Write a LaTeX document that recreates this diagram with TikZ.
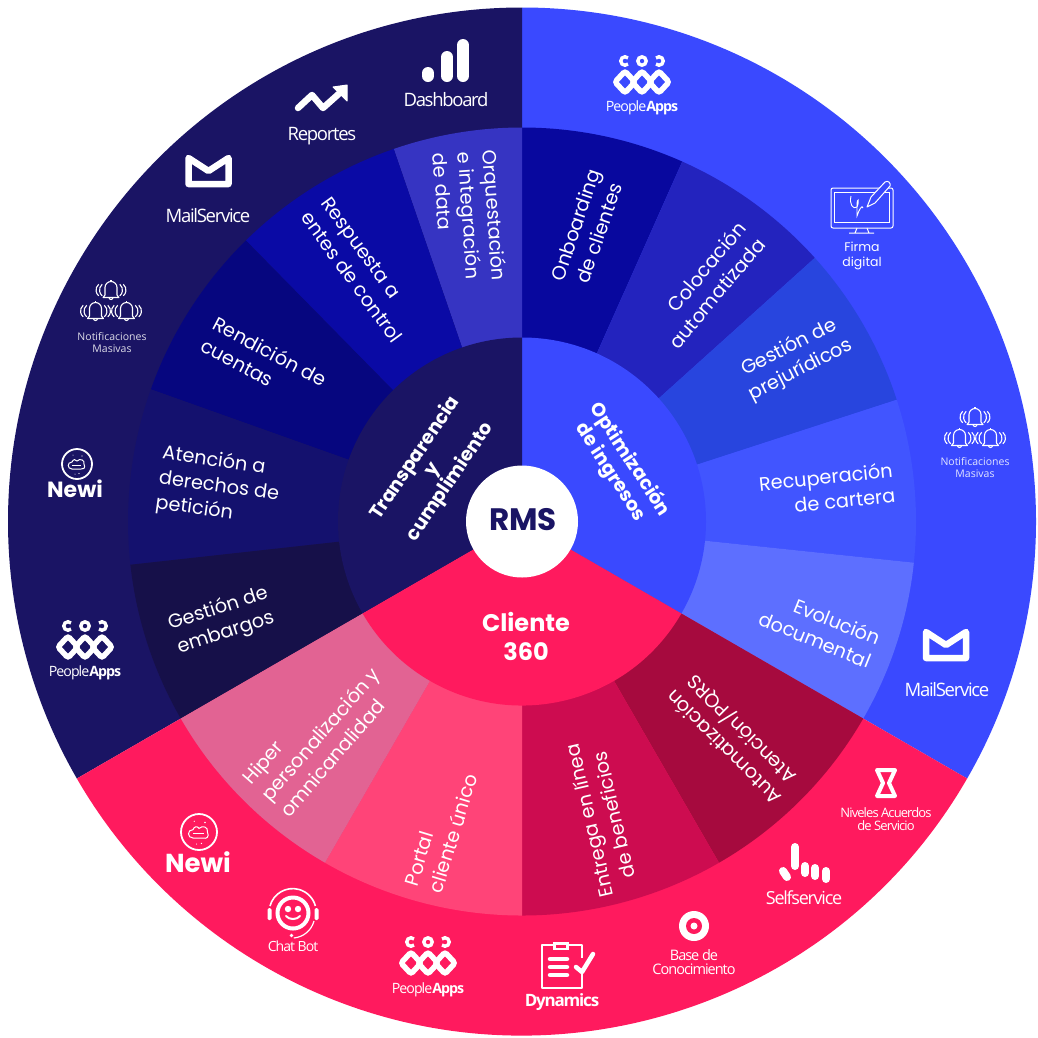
\documentclass[tikz,border=0pt]{standalone}
\usepackage{fontspec}
\setmainfont{Poppins}
\newfontfamily\osans[LetterSpace=-7]{Open Sans}
\newfontfamily\osansn{Open Sans}
\definecolor{cDark}{HTML}{1A1464}
\definecolor{cBlue}{HTML}{3A49FF}
\definecolor{cPink}{HTML}{FF1A5E}
\definecolor{sOnb}{HTML}{08089E}
\definecolor{sCol}{HTML}{2323BE}
\definecolor{sGes}{HTML}{2845DE}
\definecolor{sRec}{HTML}{4155FF}
\definecolor{sEvo}{HTML}{5D6FFF}
\definecolor{sOrq}{HTML}{3634C2}
\definecolor{sRes}{HTML}{0A0AA5}
\definecolor{sRen}{HTML}{06067F}
\definecolor{sAte}{HTML}{14116E}
\definecolor{sEmb}{HTML}{161049}
\definecolor{sHip}{HTML}{E26393}
\definecolor{sPor}{HTML}{FF4478}
\definecolor{sEnt}{HTML}{CD0C50}
\definecolor{sAut}{HTML}{A60A3E}
\newcommand{\sect}[5]{\fill[#1] (0,0) -- (#2:#4) arc[start angle=#2,end angle=#3,radius=#4] -- cycle;}
\tikzset{
 ring/.style={text=white,align=center,font=\fontsize{19.3}{25}\selectfont},
 hub/.style={text=white,align=center,font=\fontsize{19}{21}\selectfont\bfseries},
 lab/.style={text=white,align=center,inner sep=0pt,font=\osans\fontsize{#1}{#1}\selectfont},
 lab/.default=18,
 ic/.style={draw=white,line join=round,line cap=round},
 peopleicon/.pic={
  \draw[white,line width=3.4] (-17+3,24) arc[start angle=45,end angle=315,radius=4.24];
  \draw[white,line width=3.4] (0,21) circle[radius=4.2];
  \draw[white,line width=3.4] (17-3,24) arc[start angle=135,end angle=-135,radius=4.24];
  \foreach \q in {-17,0,17}{
   \draw[white,line width=5.5,rounded corners=2.5] (\q-10,0) -- (\q,10.8) -- (\q+10,0) -- (\q,-10.8) -- cycle;}
 },
 bellone/.pic={
  \draw[white,line width=1.1,line join=round] (-8,-7.5) -- (-6,-5) -- (-6,2.5) arc[start angle=180,end angle=0,radius=6] -- (6,-5) -- (8,-7.5) -- cycle;
  \draw[white,line width=1.1] (-2,-7.5) arc[start angle=180,end angle=360,radius=2];
  \draw[white,line width=1.1] (0,8.5) -- (0,10);
  \draw[white,line width=1.1] (-8.8,5.7) arc[start angle=130,end angle=230,radius=7.5];
  \draw[white,line width=1.1] (8.8,5.7) arc[start angle=50,end angle=-50,radius=7.5];
  \draw[white,line width=1.1] (-12.3,5.7) arc[start angle=130,end angle=230,radius=7.5];
  \draw[white,line width=1.1] (12.3,5.7) arc[start angle=50,end angle=-50,radius=7.5];
 },
 bells/.pic={
  \pic at (0,0) {bellone};
  \pic at (-15.5,-21) {bellone};
  \pic at (15.5,-21) {bellone};
 },
 envelope/.pic={
  \draw[white,line width=6.5,line join=round] (-20,13) -- (-20,-13) -- (20,-13) -- (20,13) -- (0,0) -- cycle;
 },
 newi/.pic={
  \draw[white,line width=1.8] (0,0) circle[radius=15];
  \draw[white,line width=1] (-5,-5) .. controls (-10,-5) and (-10,2) .. (-5,2) .. controls (-4,5) and (-1,5) .. (0,3) .. controls (3,6) and (8,4) .. (7,0) .. controls (9,-4) and (6,-6) .. (4,-5) -- cycle;
  \draw[white,line width=.8] (-5,-1.5) -- (4,-1.5);
  \fill[white] (5,8) circle[radius=.7] (-4,9) circle[radius=.5] (2,-9.5) circle[radius=.6] (-2,-10) circle[radius=.5];
 }
}
\begin{document}
\begin{tikzpicture}[x=1pt,y=1pt]
\useasboundingbox (0,0) rectangle (1038,-1037);
\fill[white] (0,0) rectangle (1038,-1037);
\begin{scope}[shift={(522,-521.5)}]
 % outer ring
 \sect{cBlue}{90}{-30}{514}{}
 \sect{cDark}{90}{210}{514}{}
 \sect{cPink}{-30}{-150}{514}{}
 % middle ring
 \sect{sOnb}{90}{66}{394}{}
 \sect{sCol}{66}{42}{394}{}
 \sect{sGes}{42}{18}{394}{}
 \sect{sRec}{18}{-6}{394}{}
 \sect{sEvo}{-6}{-30}{394}{}
 \sect{sOrq}{90}{109}{394}{}
 \sect{sRes}{109}{134.5}{394}{}
 \sect{sRen}{134.5}{160.4}{394}{}
 \sect{sAte}{160.4}{186.3}{394}{}
 \sect{sEmb}{186.3}{210}{394}{}
 \sect{sAut}{-30}{-60}{394}{}
 \sect{sEnt}{-60}{-90}{394}{}
 \sect{sPor}{-90}{-120}{394}{}
 \sect{sHip}{-120}{-150}{394}{}
 % hub
 \sect{cBlue}{90}{-30}{184}{}
 \sect{cDark}{90}{210}{184}{}
 \sect{cPink}{-30}{-150}{184}{}
 \fill[white] (0,0) circle[radius=56];
\end{scope}
% centre
\node[text=cDark,font=\fontsize{31}{31}\selectfont\bfseries] (rms) at (523,-520) {RMS};
\node[hub,rotate=56] (h1) at (433,-470) {Transparencia\\y\\cumplimiento};
\node[hub,rotate=-57,font=\fontsize{19}{23}\selectfont\bfseries] (h2) at (620,-466) {Optimización\\de ingresos};
\node[hub,font=\fontsize{24}{29}\selectfont\bfseries] (h3) at (526,-636) {Cliente\\360};
% ring texts
\node[ring,rotate=71] (r1) at (587,-229) {Onboarding\\de clientes};
\node[ring,rotate=50,align=right] (r2) at (707,-285) {Colocación\\automatizada};
\node[ring,rotate=27] (r3) at (795,-359) {Gestión de\\prejurídicos};
\node[ring,rotate=6,align=right] (r4) at (827,-489) {Recuperación\\de cartera};
\node[ring,rotate=-22,align=right] (r5) at (820,-628) {Evolución\\documental};
\node[ring,rotate=135] (r6) at (733,-738) {Automatización\\Atención/PQRS};
\node[ring,rotate=103] (r7) at (601,-818) {Entrega en línea\\de beneficios};
\node[ring,rotate=73,align=left] (r8) at (441,-830) {Portal\\cliente único};
\node[ring,rotate=49,align=left] (r9) at (320,-734) {Hiper\\personalización y\\omnicanalidad};
\node[ring,rotate=18] (r10) at (222,-621) {Gestión de\\embargos};
\node[ring,rotate=-8,align=left] (r11) at (219,-487) {Atención a\\derechos de\\petición};
\node[ring,rotate=-28,align=left] (r12) at (264,-362) {Rendición de\\cuentas};
\node[ring,rotate=-54,align=left] (r13) at (362,-270) {Respuesta a\\entes de control};
\node[ring,rotate=-86,align=left] (r14) at (470,-217) {Orquestación\\e integración\\de data};
% Dashboard
\draw[ic,line width=12] (428,-76) -- (428,-73);
\draw[ic,line width=12] (447,-76) -- (447,-57);
\draw[ic,line width=12] (463,-76) -- (463,-45);
\node[lab=18.5] (l1) at (446,-100) {Dashboard};
% Reportes
\draw[ic,line width=6.5] (298,-108) -- (312,-95) -- (323,-108) -- (342,-91);
\fill[white,draw=white,line join=round,line width=1] (333,-87) -- (347,-85) -- (347,-101) -- cycle;
\node[lab=18.5] (l2) at (322,-136) {Reportes};
% Mail
\pic at (208.5,-171) {envelope};
\node[lab=18.5] (l3) at (208,-216) {MailService};
\pic at (946,-645) {envelope};
\node[lab=18.5] (l4) at (947,-690) {MailService};
% Notificaciones
\pic at (111,-290) {bells};
\node[lab=10.5,text=white!85!cDark,font=\osansn\fontsize{10.5}{12}\selectfont] (l5) at (112,-342.5) {Notificaciones\\Masivas};
\pic at (975,-417) {bells};
\node[lab=10.5,text=white!85!cBlue,font=\osansn\fontsize{10.5}{12}\selectfont] (l6) at (975,-468) {Notificaciones\\Masivas};
% Newi
\pic at (77,-464) {newi};
\node[text=white,inner sep=0pt,font=\fontsize{22}{22}\selectfont\bfseries] (l7) at (75,-489) {Newi};
\pic[scale=1.2] at (199,-832) {newi};
\node[text=white,inner sep=0pt,font=\fontsize{26}{26}\selectfont\bfseries] (l8) at (198,-862) {Newi};
% PeopleApps
\pic at (642,-82) {peopleicon};
\node[lab=14.2] (l9) at (642,-108) {People{\bfseries Apps}};
\pic at (85,-647) {peopleicon};
\node[lab=14.2] (l10) at (85,-673) {People{\bfseries Apps}};
\pic at (428,-963) {peopleicon};
\node[lab=14.2] (l11) at (428,-990) {People{\bfseries Apps}};
% Firma
\draw[white,line width=1,rounded corners=2] (831,-188) rectangle (893,-228);
\draw[white,line width=1] (834,-192) rectangle (889,-222);
\draw[white,line width=1] (849,-233) -- (874,-233) (857,-228) -- (855,-233) (867,-228) -- (869,-233);
\draw[cBlue,line width=3] (867,-206) -- (888,-183);
\draw[white,line width=1,line join=round,fill=cBlue] (867,-207) -- (871,-197) -- (885,-182) .. controls (888,-180) and (891,-183) .. (890,-186) -- (875,-203) -- cycle;
\draw[white,line width=.9] (851,-196) .. controls (849,-204) and (853,-210) .. (857,-207) .. controls (860,-200) and (857,-196) .. (857,-206) -- (857,-216) .. controls (859,-210) and (862,-204) .. (863,-208);
\node[text=white,align=center,inner sep=0pt,font=\fontsize{12.5}{15}\selectfont] (l12) at (862,-256) {Firma\\digital};
% Chat bot
\draw[white,line width=4] (293,-913) circle[radius=15.5];
\draw[white,line width=1.6] (270,-906) arc[start angle=165,end angle=15,radius=23.5];
\fill[white,rounded corners=1.5] (267.5,-908) rectangle (271.5,-920);
\fill[white,rounded corners=1.5] (314.5,-908) rectangle (318.5,-920);
\draw[white,line width=1.2] (314,-921) arc[start angle=-15,end angle=-85,radius=23];
\fill[white] (291.5,-935.5) circle[radius=1.8];
\fill[white] (288,-909) circle[radius=3.2] (298,-909) circle[radius=3.2];
\draw[white,line width=2,line cap=round] (286,-916) .. controls (289,-920) and (297,-920) .. (300,-916);
\node[lab=14] (l13) at (293,-946) {Chat Bot};
% Dynamics
\draw[white,line width=2,line join=round] (582,-972) -- (582,-988) -- (542,-988) -- (542,-945) -- (582,-945) -- (582,-958);
\fill[white] (553,-942) rectangle (569,-950);
\fill[cPink] (556,-944.5) rectangle (566,-947.5);
\draw[ic,line width=4.5] (550,-959) -- (567,-959) (550,-967) -- (567,-967) (550,-975) -- (567,-975);
\draw[ic,line width=4.5] (576,-967) -- (582,-972) -- (593,-954);
\node[lab=17,font=\osans\bfseries\fontsize{17}{17}\selectfont] (l14) at (562,-1002) {Dynamics};
% Base conocimiento
\fill[white] (694,-926) circle[radius=15];
\fill[cPink] (694,-926) circle[radius=8];
\fill[white] (694,-926) circle[radius=3.5];
\node[lab=14.5,font=\osans\fontsize{14.5}{14}\selectfont] (l15) at (694,-962.5) {Base de\\Conocimiento};
% Selfservice
\draw[ic,line width=8] (795,-847) -- (795,-866);
\draw[ic,line width=8] (805,-866) -- (805,-873);
\draw[ic,line width=8] (815,-868) -- (815,-876);
\draw[ic,line width=8] (826,-871) -- (826,-879);
\draw[ic,line width=8] (783,-871) -- (787,-877);
\node[lab=18] (l16) at (804,-898) {Selfservice};
% Niveles
\draw[white,line width=4,line join=round] (877,-770) -- (895,-770) -- (889,-783) -- (895,-796) -- (877,-796) -- (883,-783) -- cycle;
\node[lab=13,font=\osans\fontsize{13}{13}\selectfont] (l17) at (886,-819.5) {Niveles Acuerdos\\de Servicio};
\end{tikzpicture}
\end{document}
